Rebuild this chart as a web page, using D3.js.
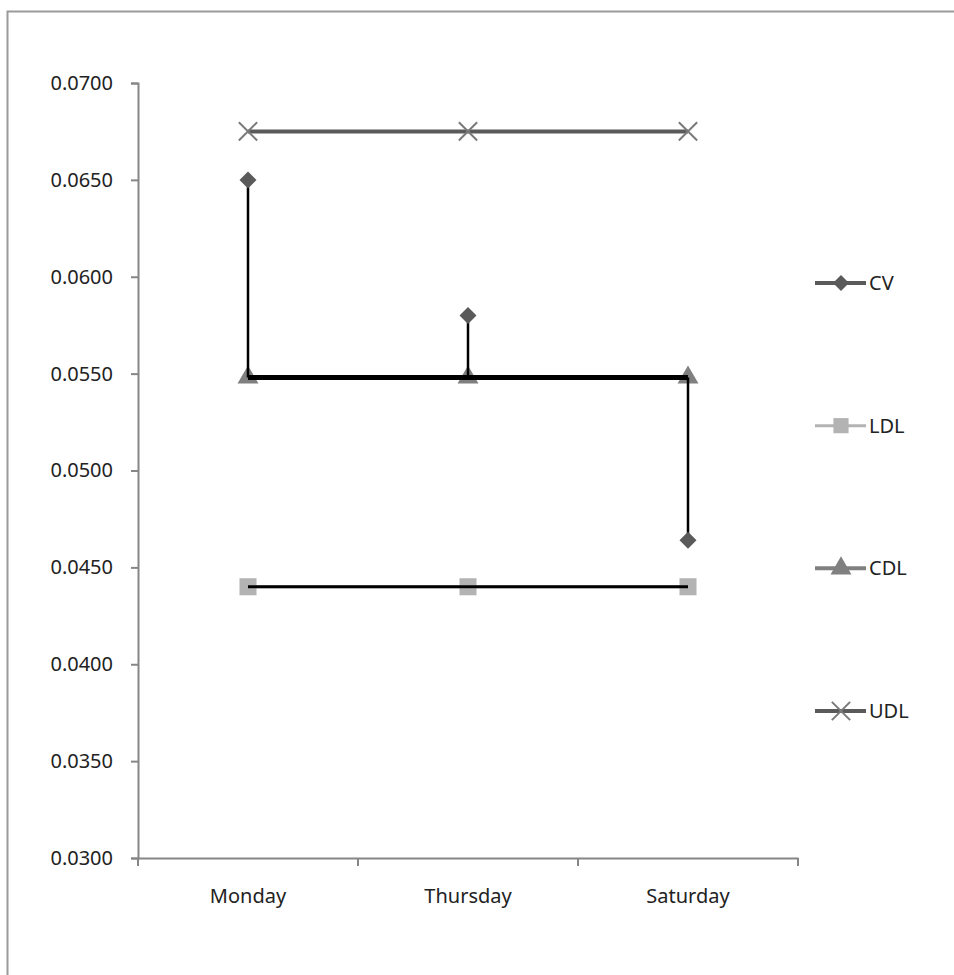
<!DOCTYPE html>
<html><head><meta charset="utf-8">
<script src="https://cdn.jsdelivr.net/npm/d3@7"></script>
<style>body{margin:0;background:#fff}</style>
</head><body>
<svg id="c" width="954" height="975"></svg>
<script>
const days = ["Monday", "Thursday", "Saturday"];
const CV  = [0.0650, 0.0580, 0.0464];
const LDL = [0.0440, 0.0440, 0.0440];
const CDL = [0.0548, 0.0548, 0.0548];
const UDL = [0.0675, 0.0675, 0.0675];
const yTicks = [0.0300,0.0350,0.0400,0.0450,0.0500,0.0550,0.0600,0.0650,0.0700];

const svg = d3.select("#c");
const font = "'Noto Sans', 'DejaVu Sans', sans-serif";
svg.append("rect").attr("x",7.5).attr("y",11.5).attr("width",960).attr("height",980)
  .attr("fill","#fff").attr("stroke","#9a9a9a").attr("stroke-width",2);

const x = d3.scaleBand().domain(days).range([138,798]);
const y = d3.scaleLinear().domain([0.03,0.07]).range([858,83]);
const cx = d => x(d)+x.bandwidth()/2;

const yAxis = svg.append("g").attr("transform","translate(138,0)")
  .call(d3.axisLeft(y).tickValues(yTicks).tickFormat(d3.format(".4f")).tickSize(7).tickPadding(18));
const xAxis = svg.append("g").attr("transform","translate(0,858)")
  .call(d3.axisBottom(x).tickSize(0).tickPadding(31));
svg.append("g").selectAll("line").data(d3.range(days.length+1)).join("line")
  .attr("x1",i=>138+i*x.step()).attr("x2",i=>138+i*x.step())
  .attr("y1",858).attr("y2",866).attr("stroke","#868686").attr("stroke-width",2);
[yAxis,xAxis].forEach(a=>{
  a.selectAll("path,line").attr("stroke","#868686").attr("stroke-width",2);
  a.selectAll("text").attr("font-family",font).attr("font-size",20).attr("fill","#222");
});

const line = d3.line().x((d,i)=>cx(days[i])).y(d=>y(d));
svg.append("path").attr("d",line(UDL)).attr("fill","none").attr("stroke","#5a5a5a").attr("stroke-width",4);
svg.append("path").attr("d",line(LDL)).attr("fill","none").attr("stroke","#b3b3b3").attr("stroke-width",3);
svg.append("path").attr("d",line(CDL)).attr("fill","none").attr("stroke","#808080").attr("stroke-width",3);

const sym = (type,size) => d3.symbol().type(type).size(size)();
const diamond = s => `M0,${-s}L${s},0L0,${s}L${-s},0Z`;
svg.append("g").selectAll("path").data(LDL).join("path")
  .attr("transform",(d,i)=>`translate(${cx(days[i])},${y(d)})`).attr("d",sym(d3.symbolSquare,290)).attr("fill","#b3b3b3");
svg.append("g").selectAll("path").data(CDL).join("path")
  .attr("transform",(d,i)=>`translate(${cx(days[i])},${y(d)})`).attr("d",sym(d3.symbolTriangle,190)).attr("fill","#808080");
svg.append("g").selectAll("path").data(UDL).join("path")
  .attr("transform",(d,i)=>`translate(${cx(days[i])},${y(d)})`).attr("d",d3.symbol().type(d3.symbolX).size(220)()).attr("fill","none").attr("stroke","#7a7a7a").attr("stroke-width",2);

const blk = svg.append("g").attr("stroke","#000").attr("fill","none");
blk.append("path").attr("d",line(CDL)).attr("stroke-width",5);
blk.append("path").attr("d",line(LDL)).attr("stroke-width",3);
CV.forEach((v,i)=>{
  blk.append("line").attr("x1",cx(days[i])).attr("x2",cx(days[i]))
    .attr("y1",y(v)).attr("y2",y(CDL[i])).attr("stroke-width",2.5);
});

svg.append("g").selectAll("path").data(CV).join("path")
  .attr("transform",(d,i)=>`translate(${cx(days[i])},${y(d)})`).attr("d",diamond(8.5)).attr("fill","#5a5a5a");

const leg = [
  {name:"CV", color:"#5a5a5a", sym:"diamond"},
  {name:"LDL", color:"#b3b3b3", sym:"square"},
  {name:"CDL", color:"#808080", sym:"triangle"},
  {name:"UDL", color:"#5a5a5a", sym:"x"}
];
const ly = d3.scalePoint().domain(leg.map(d=>d.name)).range([283,711]);
const lg = svg.append("g").selectAll("g").data(leg).join("g").attr("transform",d=>`translate(0,${ly(d.name)})`);
lg.append("line").attr("x1",815).attr("x2",866).attr("stroke",d=>d.color).attr("stroke-width",d=>d.name==="LDL"?3:4);
lg.append("path").attr("transform","translate(841,0)").attr("d",d=>{
  if(d.sym==="diamond") return diamond(8);
  if(d.sym==="square") return sym(d3.symbolSquare,230);
  if(d.sym==="triangle") return sym(d3.symbolTriangle,190);
  return d3.symbol().type(d3.symbolX).size(220)();
}).attr("fill",d=>d.sym==="x"?"none":d.color).attr("stroke",d=>d.sym==="x"?"#7a7a7a":"none").attr("stroke-width",2);
lg.append("text").attr("x",869).attr("dy","0.35em").text(d=>d.name)
  .attr("font-family",font).attr("font-size",20).attr("fill","#222");
</script>
</body></html>
